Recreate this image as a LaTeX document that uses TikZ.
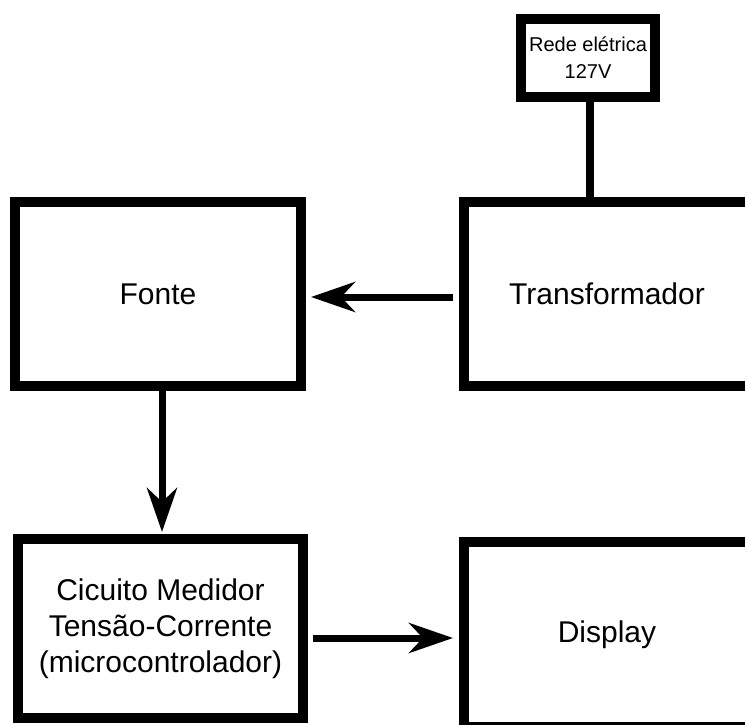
\documentclass[tikz,border=0pt]{standalone}
\usepackage{fontspec}
\setmainfont{Liberation Sans}
\usetikzlibrary{arrows.meta}
\begin{document}
\begin{tikzpicture}[x=1pt,y=-1pt,
  blk/.style={draw, line width=10pt, rectangle, inner sep=0pt, align=center,
    font=\fontsize{30}{36}\selectfont},
  arr/.style={line width=7pt, -{Stealth[length=44pt,width=30pt,inset=14pt]}},
]
\useasboundingbox (0,0) rectangle (745,725);
\clip (0,0) rectangle (745,725);
\node[blk, minimum width=134pt, minimum height=78pt, font=\fontsize{20}{27}\selectfont] (rede) at (588,58) {Rede elétrica\\127V};
\node[blk, minimum width=286pt, minimum height=184pt] (fo) at (158,294) {Fonte};
\node[blk, minimum width=286pt, minimum height=184pt] (tr) at (607,294) {Transformador};
\node[blk, minimum width=285pt, minimum height=179pt] (ci) at (160.5,628.5) {Cicuito Medidor\\Tensão-Corrente\\(microcontrolador)};
\node[blk, minimum width=286pt, minimum height=185pt] (di) at (607,634.5) {Display};
\draw[line width=8pt] ([xshift=2pt]rede.south) -- ([xshift=2pt]rede.south |- tr.north);
\draw[arr, shorten <=6pt, shorten >=5pt] ([yshift=-3pt]tr.west) -- ([yshift=-3pt]fo.east);
\draw[arr, shorten >=2pt] ([xshift=4pt]fo.south) -- ([xshift=1.5pt]ci.north);
\draw[arr, shorten <=5pt, shorten >=6pt] ([yshift=-9.5pt]ci.east) -- ([yshift=-3.5pt]di.west);
\end{tikzpicture}
\end{document}
